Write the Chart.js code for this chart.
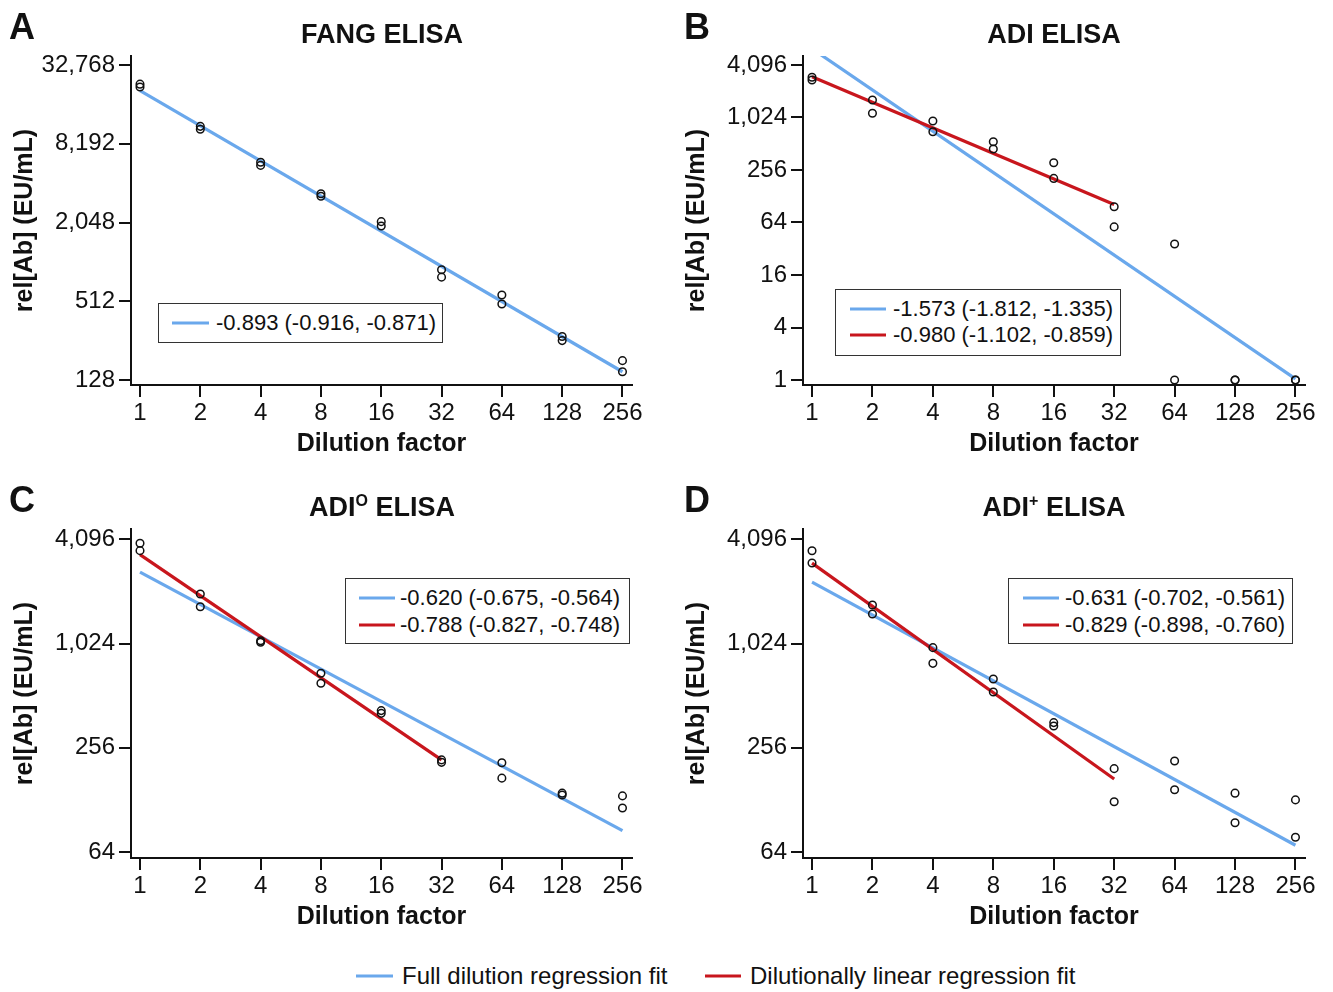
<!DOCTYPE html>
<html>
<head>
<meta charset="utf-8">
<script src="https://cdn.jsdelivr.net/npm/chart.js@4.4.1/dist/chart.umd.min.js"></script>
<style>
html,body{margin:0;padding:0;background:#fff;}
#fig{position:relative;width:1333px;height:992px;overflow:hidden;font-family:"Liberation Sans",Arial,sans-serif;color:#111;}
#fig canvas{position:absolute;}
.letter{position:absolute;font-weight:bold;font-size:36px;line-height:1;}
.title{position:absolute;font-weight:bold;font-size:27px;line-height:1;transform:translate(-50%,-50%);white-space:nowrap;}
.title sup{font-size:16px;vertical-align:0;position:relative;top:-10px;}
.lbox{position:absolute;border:1.5px solid #333;box-sizing:border-box;background:#fff;}
.lrow{position:absolute;font-size:22px;line-height:1;white-space:nowrap;transform:translateY(-50%);}
.swatch{position:absolute;height:3px;transform:translateY(-50%);}
.blg{position:absolute;font-size:24px;line-height:1;white-space:nowrap;transform:translateY(-50%);}
</style>
</head>
<body>
<div id="fig">
  <canvas id="cA" width="666" height="470" style="left:0;top:0"></canvas>
  <canvas id="cB" width="661" height="470" style="left:672px;top:0"></canvas>
  <canvas id="cC" width="666" height="470" style="left:0;top:473px"></canvas>
  <canvas id="cD" width="661" height="470" style="left:672px;top:473px"></canvas>

  <div class="letter" style="left:9px;top:9px">A</div>
  <div class="letter" style="left:684px;top:9px">B</div>
  <div class="letter" style="left:9px;top:482px">C</div>
  <div class="letter" style="left:684px;top:482px">D</div>

  <div class="title" style="left:382px;top:34px">FANG ELISA</div>
  <div class="title" style="left:1054px;top:34px">ADI ELISA</div>
  <div class="title" style="left:382px;top:507px">ADI<sup>O</sup> ELISA</div>
  <div class="title" style="left:1054px;top:507px">ADI<sup>+</sup> ELISA</div>

  <div id="legends"></div>
</div>
<script>
// ---------- data ----------
const dilutions = [1, 2, 4, 8, 16, 32, 64, 128, 256];
const xTickLabels = ['1', '2', '4', '8', '16', '32', '64', '128', '256'];

// Panel A: FANG ELISA (two replicates)
const fangRep1 = [23400, 11130, 5910, 3400, 2080, 891, 572, 275, 180];
const fangRep2 = [22250, 10590, 5600, 3250, 1925, 783, 488, 256, 148];
// Panel B: ADI ELISA
const adiRep1 = [2960, 1625, 934, 540, 310, 97, 36.3, 1, 1];
const adiRep2 = [2760, 1144, 704, 446, 205, 57, 1, 1, 1];
// Panel C: ADI(O) ELISA
const adiORep1 = [3894, 1984, 1065, 690, 420, 218, 210, 140, 135];
const adiORep2 = [3531, 1675, 1043, 604, 405, 211, 171, 136.5, 115];
// Panel D: ADI(+) ELISA
const adiPRep1 = [3525, 1713, 971, 640, 358, 194, 215, 140, 128];
const adiPRep2 = [2996, 1520, 788, 538, 342, 125, 146.6, 94.5, 77.9];

// regression fit end points (value at first and last dilution of the fit)
const fullFitX = [1, 256];
const linFitX = [1, 32];
const fangFullFit = [20880, 148];
const adiFullFit = [6300, 1.03];
const adiLinFit = [3010, 103];
const adiOFullFit = [2650, 85];
const adiOLinFit = [3350, 218];
const adiPFullFit = [2320, 70];
const adiPLinFit = [2990, 169];

// y tick values / labels
const yTicksA = [128, 512, 2048, 8192, 32768];
const yLabelsA = ['128', '512', '2,048', '8,192', '32,768'];
const yTicksB = [1, 4, 16, 64, 256, 1024, 4096];
const yLabelsB = ['1', '4', '16', '64', '256', '1,024', '4,096'];
const yTicksCD = [64, 256, 1024, 4096];
const yLabelsCD = ['64', '256', '1,024', '4,096'];

// legend texts
const legendA = ['-0.893 (-0.916, -0.871)'];
const legendB = ['-1.573 (-1.812, -1.335)', '-0.980 (-1.102, -0.859)'];
const legendC = ['-0.620 (-0.675, -0.564)', '-0.788 (-0.827, -0.748)'];
const legendD = ['-0.631 (-0.702, -0.561)', '-0.829 (-0.898, -0.760)'];
const figLegend = ['Full dilution regression fit', 'Dilutionally linear regression fit'];

// ---------- style ----------
const BLUE = '#6aa8ec';
const RED = '#c8161d';
const INK = '#111111';
Chart.defaults.font.family = '"Liberation Sans", Arial, sans-serif';
Chart.defaults.color = INK;

function pts(xs, ys) { return xs.map((x, i) => ({x: x, y: ys[i]})); }

function pointSet(ys) {
  return {
    data: pts(dilutions, ys), showLine: false,
    pointStyle: 'circle', pointRadius: 3.8, pointBorderWidth: 1.5,
    pointBorderColor: INK, pointBackgroundColor: 'rgba(255,255,255,0)',
    pointHoverRadius: 3.8
  };
}
function lineSet(xs, ys, color) {
  return {
    data: pts(xs, ys), showLine: true, borderColor: color, borderWidth: 3.2,
    pointRadius: 0, pointHoverRadius: 0, fill: false, tension: 0
  };
}

function makePanel(id, datasets, yTicks, yLabels, yMin, yMax, padRight) {
  new Chart(document.getElementById(id), {
    type: 'scatter',
    data: {datasets: datasets},
    options: {
      responsive: false, animation: false, devicePixelRatio: 1,
      layout: {padding: {top: 56, right: padRight, left: 0, bottom: 0}},
      plugins: {legend: {display: false}, tooltip: {enabled: false}, title: {display: false}},
      scales: {
        x: {
          type: 'logarithmic', min: 0.9017, max: 285.6,
          afterBuildTicks: s => { s.ticks = dilutions.map(v => ({value: v})); },
          afterFit: s => { s.height = 85; s.paddingLeft = 0; s.paddingRight = 0; },
          grid: {display: true, drawOnChartArea: false, drawTicks: true, tickLength: 12, lineWidth: 2, color: INK},
          border: {display: true, color: INK, width: 2},
          ticks: {autoSkip: false, maxRotation: 0, padding: 2, color: INK, font: {size: 24},
                  callback: (v, i) => xTickLabels[i]},
          title: {display: true, text: 'Dilution factor', color: INK,
                  font: {size: 25, weight: 'bold'}, padding: {top: 0, bottom: 11}}
        },
        y: {
          type: 'logarithmic', min: yMin, max: yMax,
          afterBuildTicks: s => { s.ticks = yTicks.map(v => ({value: v})); },
          afterFit: s => { s.width = 131; s.paddingTop = 0; s.paddingBottom = 0; },
          grid: {display: true, drawOnChartArea: false, drawTicks: true, tickLength: 12, lineWidth: 2, color: INK},
          border: {display: true, color: INK, width: 2},
          ticks: {autoSkip: false, padding: 4, color: INK, font: {size: 24},
                  callback: (v, i) => yLabels[i]},
          title: {display: true, text: 'rel[Ab] (EU/mL)', color: INK,
                  font: {size: 25, weight: 'bold'}, padding: {top: 10, bottom: 0}}
        }
      }
    }
  });
}

makePanel('cA', [pointSet(fangRep1), pointSet(fangRep2),
                 lineSet(fullFitX, fangFullFit, BLUE)],
          yTicksA, yLabelsA, 117.2, 38420, 34);
makePanel('cB', [pointSet(adiRep1), pointSet(adiRep2),
                 lineSet(linFitX, adiLinFit, RED), lineSet(fullFitX, adiFullFit, BLUE)],
          yTicksB, yLabelsB, 0.8764, 5194, 28);
makePanel('cC', [pointSet(adiORep1), pointSet(adiORep2),
                 lineSet(linFitX, adiOLinFit, RED), lineSet(fullFitX, adiOFullFit, BLUE)],
          yTicksCD, yLabelsCD, 59.07, 4710, 34);
makePanel('cD', [pointSet(adiPRep1), pointSet(adiPRep2),
                 lineSet(linFitX, adiPLinFit, RED), lineSet(fullFitX, adiPFullFit, BLUE)],
          yTicksCD, yLabelsCD, 59.07, 4710, 28);

// ---------- legends (HTML) ----------
const host = document.getElementById('legends');
function legendBox(box, rows, colors) {
  const b = document.createElement('div');
  b.className = 'lbox';
  b.style.left = box.l + 'px'; b.style.top = box.t + 'px';
  b.style.width = (box.r - box.l) + 'px'; b.style.height = (box.b - box.t) + 'px';
  host.appendChild(b);
  rows.forEach((txt, i) => {
    const y = box.rows[i];
    const sw = document.createElement('div');
    sw.className = 'swatch';
    sw.style.left = box.s0 + 'px'; sw.style.width = (box.s1 - box.s0) + 'px';
    sw.style.top = y + 'px'; sw.style.background = colors[i];
    host.appendChild(sw);
    const t = document.createElement('div');
    t.className = 'lrow';
    t.style.left = box.tx + 'px'; t.style.top = y + 'px';
    t.textContent = txt;
    host.appendChild(t);
  });
}
legendBox({l: 158, t: 303, r: 443, b: 343, rows: [322.5], s0: 172, s1: 209, tx: 216}, legendA, [BLUE]);
legendBox({l: 835, t: 289, r: 1121, b: 356, rows: [308.5, 335], s0: 850, s1: 886, tx: 893}, legendB, [BLUE, RED]);
legendBox({l: 345, t: 578, r: 630, b: 644, rows: [597.5, 624.5], s0: 359, s1: 395, tx: 400}, legendC, [BLUE, RED]);
legendBox({l: 1008, t: 578, r: 1293, b: 644, rows: [597.5, 624.5], s0: 1023, s1: 1059, tx: 1065}, legendD, [BLUE, RED]);

// bottom figure legend
[[356, 393, 402, BLUE], [705, 741, 750, RED]].forEach((p, i) => {
  const sw = document.createElement('div');
  sw.className = 'swatch';
  sw.style.left = p[0] + 'px'; sw.style.width = (p[1] - p[0]) + 'px';
  sw.style.top = '976px'; sw.style.background = p[3];
  host.appendChild(sw);
  const t = document.createElement('div');
  t.className = 'blg';
  t.style.left = p[2] + 'px'; t.style.top = '976px';
  t.textContent = figLegend[i];
  host.appendChild(t);
});
</script>
</body>
</html>
